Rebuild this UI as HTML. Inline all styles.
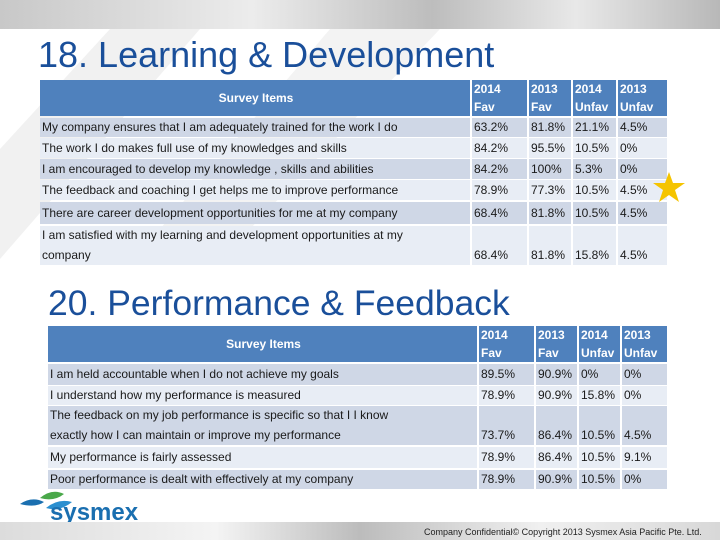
<!DOCTYPE html>
<html><head><meta charset="utf-8"><style>
body{margin:0;width:720px;height:540px;overflow:hidden;position:relative;background:#fff;font-family:"Liberation Sans",sans-serif}
.abs{position:absolute}
.cell{position:absolute;font-size:12px;color:#1a1a1a;box-sizing:border-box;padding-left:2px;line-height:19px;white-space:nowrap;overflow:hidden}
.hd{background:#4f81bd;color:#fff;font-weight:bold;font-size:12px}
h1{position:absolute;margin:0;font-weight:normal;color:#1a4f9a;white-space:nowrap}
</style></head><body>
<div class="abs" style="left:0;top:0;width:720px;height:29px;background:linear-gradient(90deg,#c8c8c8,#ececec 35%,#bdbdbd 60%,#e8e8e8 80%,#b8b8b8)"></div>
<svg class="abs" style="left:0;top:29px" width="720" height="500">
<polygon points="0,120 110,0 200,0 0,230" fill="#f1f1f1"/>
<polygon points="330,0 440,0 250,200 160,200" fill="#f3f3f3"/>
</svg>
<h1 style="left:38px;top:34px;font-size:36px">18. Learning &amp; Development</h1>
<div id="t1"></div>
<svg class="abs" style="left:652px;top:171px" width="34" height="32"><polygon points="17,1 21,12 33,12 23,19 27,31 17,24 7,31 11,19 1,12 13,12" fill="#f5c400"/></svg>
<h1 style="left:48px;top:283px;font-size:35.5px">20. Performance &amp; Feedback</h1>
<div id="t2"></div>
<svg class="abs" style="left:18px;top:488px" width="60" height="28">
<path d="M2,16 Q14,8 26,14 Q18,20 2,16Z" fill="#1a6fb0"/><path d="M22,10 Q34,0 46,6 Q36,14 22,10Z" fill="#4aa84a"/><path d="M28,20 Q40,10 54,14 Q42,24 28,20Z" fill="#2a8fd0"/></svg>
<div class="abs" style="left:50px;top:499px;font-size:24px;font-weight:bold;color:#1a6fb0">sysmex</div>
<div class="abs" style="left:0;top:522px;width:720px;height:18px;background:linear-gradient(90deg,#dcdcdc,#f4f4f4 30%,#bcbcbc 50%,#f0f0f0 75%,#d8d8d8)"></div>
<div class="abs" style="left:424px;top:527px;font-size:9px;color:#222">Company Confidential© Copyright 2013 Sysmex Asia Pacific Pte. Ltd.</div>
<script>
const items1=["My company ensures that I am adequately trained for the work I do","The work I do makes full use of my knowledges and skills","I am encouraged to develop my knowledge , skills and abilities","The feedback and coaching I get helps me to improve performance","There are career development opportunities for me at my company","I am satisfied with my learning and development opportunities at my<br>company"];
const fav2014a=["63.2%","84.2%","84.2%","78.9%","68.4%","68.4%"];
const fav2013a=["81.8%","95.5%","100%","77.3%","81.8%","81.8%"];
const unf2014a=["21.1%","10.5%","5.3%","10.5%","10.5%","15.8%"];
const unf2013a=["4.5%","0%","0%","4.5%","4.5%","4.5%"];
const items2=["I am held accountable when I do not achieve my goals","I understand how my performance is measured","The feedback on my job performance is specific so that I I know<br>exactly how I can maintain or improve my performance","My performance is fairly assessed","Poor performance is dealt with effectively at my company"];
const fav2014b=["89.5%","78.9%","73.7%","78.9%","78.9%"];
const fav2013b=["90.9%","90.9%","86.4%","86.4%","90.9%"];
const unf2014b=["0%","15.8%","10.5%","10.5%","10.5%"];
const unf2013b=["0%","0%","4.5%","9.1%","0%"];
const heads=["2014 Fav","2013 Fav","2014 Unfav","2013 Unfav"];
function build(host,cols,hy,hh,rows,items,vals,wraps){
  const c=document.getElementById(host);
  function mk(x,y,w,h,cls,txt,bg){
    const d=document.createElement('div');d.className='cell '+cls;
    d.style.cssText=`left:${x}px;top:${y}px;width:${w}px;height:${h}px;`+(bg?`background:${bg};`:'');
    d.innerHTML=txt;c.appendChild(d);return d;}
  const h0=mk(cols[0],hy,cols[1]-cols[0]-2,hh,'hd','Survey Items');
  
  
  h0.style.textAlign='center';h0.style.lineHeight=hh+'px';
  for(let j=0;j<4;j++){
    const d=mk(cols[j+1],hy,cols[j+2]-cols[j+1]-2,hh,'hd',heads[j].replace(' ','<br>'));
    
    
    d.style.whiteSpace='normal';d.style.lineHeight=(hh/2)+'px';
  }
  rows.forEach((r,i)=>{
    const bg=i%2==0?'#cfd7e6':'#e8edf5';
    const t=mk(cols[0],r[0],cols[1]-cols[0]-2,r[1],'',items[i],bg);
    
    
    if(wraps[i]){t.style.lineHeight=(r[1]/2)+'px';}
    else t.style.lineHeight=r[1]+'px';
    for(let j=0;j<4;j++){
      const v=mk(cols[j+1],r[0],cols[j+2]-cols[j+1]-2,r[1],'',vals[j][i],bg);
      
      
      if(wraps[i]){v.style.lineHeight='19px';v.style.paddingTop=(r[1]-19)+'px';}
      else v.style.lineHeight=r[1]+'px';
    }
  });
}
build('t1',[40,472,529,573,618,669],80,36,
  [[118,19],[138,20],[159,20],[180,20],[202,22],[226,39]],items1,[fav2014a,fav2013a,unf2014a,unf2013a],[0,0,0,0,0,1]);
build('t2',[48,479,536,579,622,669],326,36,
  [[364,21],[386,19],[406,39],[447,21],[470,19]],items2,[fav2014b,fav2013b,unf2014b,unf2013b],[0,0,1,0,0]);
</script>
</body></html>
